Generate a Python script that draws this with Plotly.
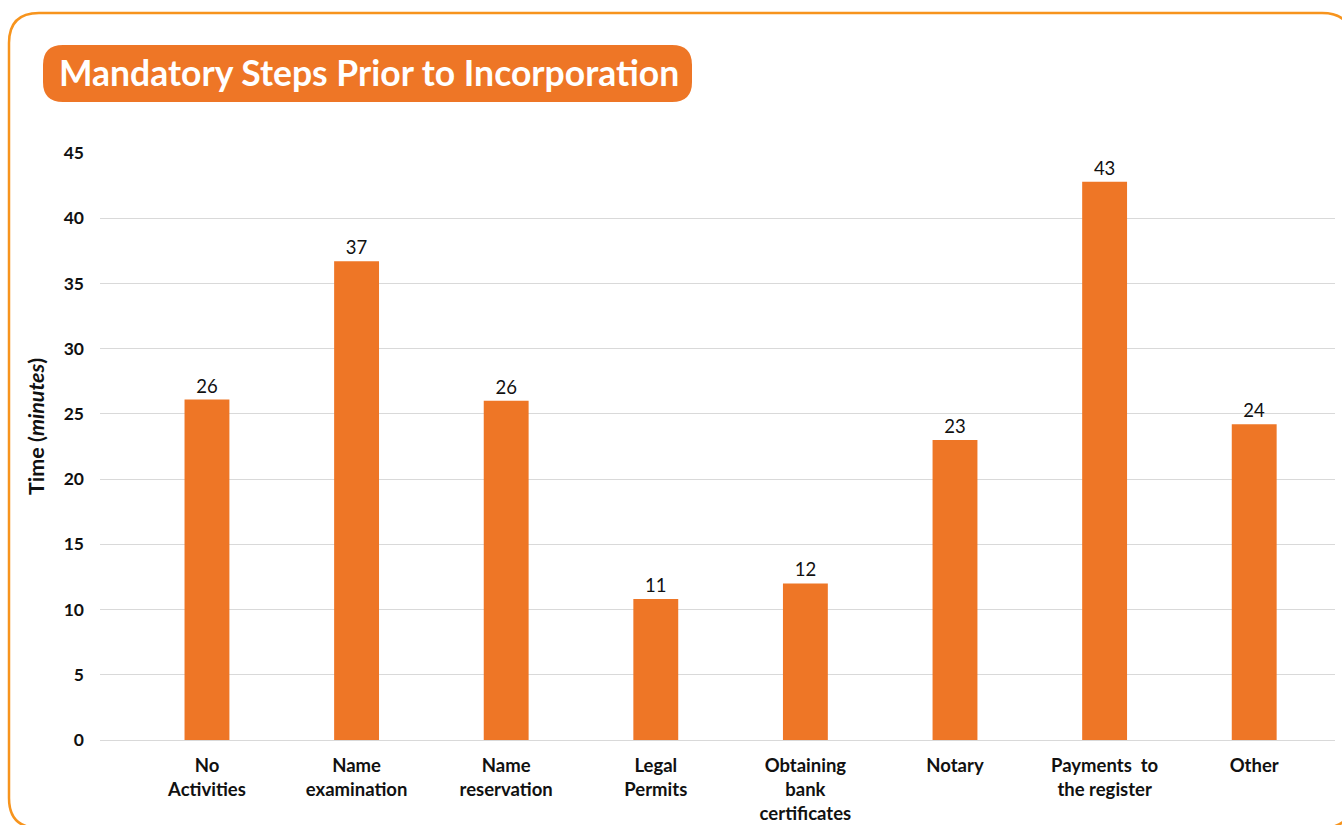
import plotly.graph_objects as go

categories = ["No<br>Activities", "Name<br>examination", "Name<br>reservation", "Legal<br>Permits",
              "Obtaining<br>bank<br>certificates", "Notary", "Payments&nbsp; to<br>the register", "Other"]
values = [26.1, 36.7, 26.0, 10.8, 12.0, 23.0, 42.8, 24.2]
y_ticks = [0, 5, 10, 15, 20, 25, 30, 35, 40, 45]

W, H = 1342, 825
L, R, T, B = 100, 7, 153, 85
PW, PH = W - L - R, H - T - B

def px(x):
    return (x - L) / PW

def py(y):
    return (H - B - y) / PH

def rrect(x0, y0, x1, y1, r):
    return (f"M {px(x0+r)},{py(y0)} L {px(x1-r)},{py(y0)} Q {px(x1)},{py(y0)} {px(x1)},{py(y0+r)} "
            f"L {px(x1)},{py(y1-r)} Q {px(x1)},{py(y1)} {px(x1-r)},{py(y1)} "
            f"L {px(x0+r)},{py(y1)} Q {px(x0)},{py(y1)} {px(x0)},{py(y1-r)} "
            f"L {px(x0)},{py(y0+r)} Q {px(x0)},{py(y0)} {px(x0+r)},{py(y0)} Z")

orange = "#EE7626"
font = "Lato, 'Open Sans', sans-serif"

fig = go.Figure(go.Bar(
    x=list(range(len(categories))), y=values, width=0.30,
    marker=dict(color=orange, line=dict(width=0)),
    texttemplate="%{y:.0f}", textposition="outside",
    textfont=dict(size=18.5, color="#111111", family=font),
    cliponaxis=False, hoverinfo="skip",
))

fig.update_layout(
    width=W, height=H,
    margin=dict(l=L, r=R, t=T, b=B, autoexpand=False),
    paper_bgcolor="white", plot_bgcolor="white",
    showlegend=False,
    font=dict(family=font, color="#111111"),
    xaxis=dict(range=[-0.715, 7.54], tickmode="array", tickvals=list(range(len(categories))),
               ticktext=[f"<b>{c}</b>" for c in categories], tickfont=dict(size=18.5, color="#111111"),
               showgrid=False, zeroline=False, showline=False, ticks="", ticklabelstandoff=12,
               automargin=False, fixedrange=True),
    yaxis=dict(range=[0, 45], tickvals=y_ticks, ticktext=[f"<b>{t}</b>" for t in y_ticks],
               tickfont=dict(size=17.5, color="#111111"), showgrid=True, gridcolor="#D9D9D9",
               gridwidth=1.3, zeroline=True, zerolinecolor="#D9D9D9", zerolinewidth=1.3,
               showline=False, ticks="", ticklabelstandoff=15, automargin=False, fixedrange=True),
    shapes=[
        dict(type="path", xref="paper", yref="paper", path=rrect(9, 13, 1352, 828, 30),
             line=dict(color="#F7941D", width=2.5), fillcolor="rgba(0,0,0,0)", layer="below"),
        dict(type="path", xref="paper", yref="paper", path=rrect(43, 45, 692, 102, 20),
             line=dict(width=0), fillcolor=orange, layer="above"),
    ],
    annotations=[
        dict(xref="paper", yref="paper", x=px(369), y=py(73), text="<b>Mandatory Steps Prior to Incorporation</b>",
             showarrow=False, font=dict(size=35.5, color="white", family=font), xanchor="center", yanchor="middle"),
        dict(xref="paper", yref="paper", x=px(36), y=py(427), text="<b>Time (<i>minutes</i>)</b>",
             showarrow=False, textangle=-90, font=dict(size=21.5, color="#111111", family=font),
             xanchor="center", yanchor="middle"),
    ],
)

fig.write_html("out.html")
